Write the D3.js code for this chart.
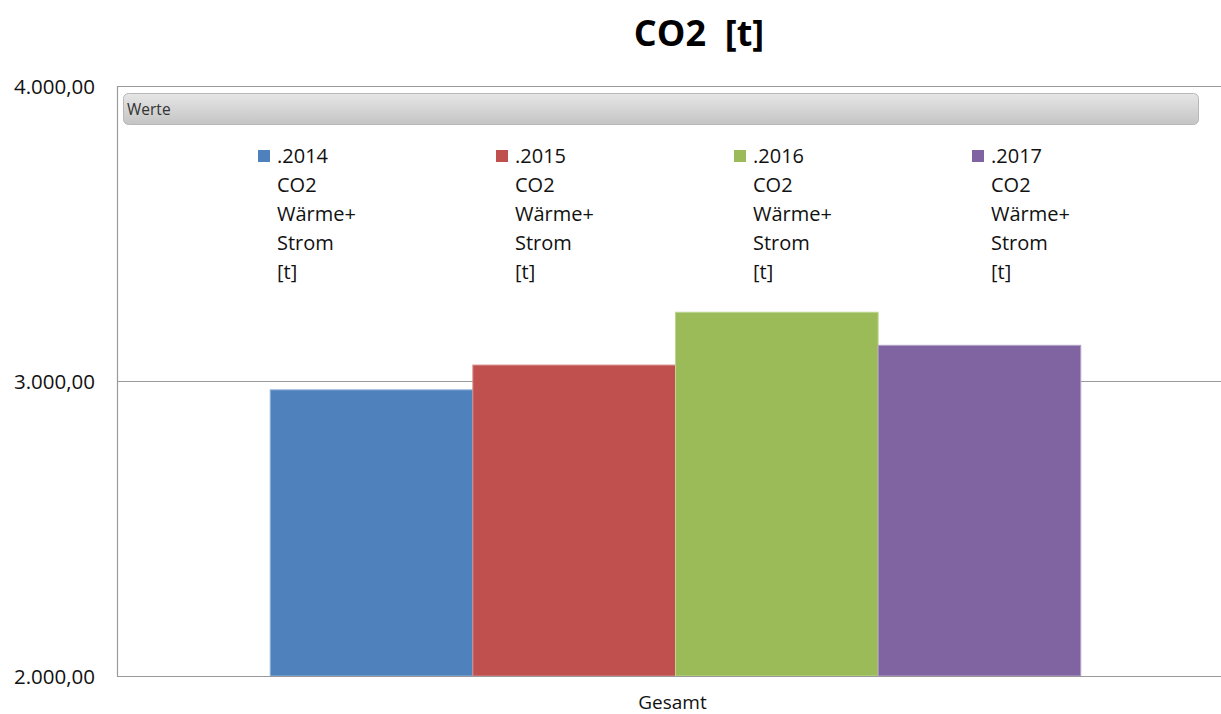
<!DOCTYPE html>
<html>
<head>
<meta charset="utf-8">
<script src="https://cdn.jsdelivr.net/npm/d3@7"></script>
<style>
  body { margin: 0; background: #fff; }
  svg { display: block; font-family: "Open Sans", sans-serif; }
  text { white-space: pre; }
</style>
</head>
<body>
<svg id="chart" width="1221" height="714"></svg>
<script>
// data
const categories = ["Gesamt"];
const years = [".2014", ".2015", ".2016", ".2017"];
const values = [2970, 3054, 3233, 3121];
const legendLines = ["CO2", "Wärme+", "Strom", "[t]"];
const yTicks = [2000, 3000, 4000];
const colors = ["#4F81BD", "#C0504D", "#9BBB59", "#8064A2"];
const strokes = ["#8fb0d8", "#d68c8a", "#bcd68f", "#b3a2c8"];

const width = 1221, height = 714;
const plot = { left: 117, right: 1234, top: 86, bottom: 676 };

const svg = d3.select("#chart");

const deLocale = d3.formatLocale({ decimal: ",", thousands: ".", grouping: [3], currency: ["", " €"] });
const fmt = deLocale.format(",.2f");

const y = d3.scaleLinear().domain([2000, 4000]).range([plot.bottom, plot.top]);
const x = d3.scaleBand().domain(categories).range([plot.left, plot.right]).padding(0.159);
const xInner = d3.scaleBand().domain(years).range([0, x.bandwidth()]);

// title
svg.append("text")
    .attr("x", 699).attr("y", 46)
    .attr("text-anchor", "middle")
    .attr("font-size", "36px")
    .attr("font-weight", "bold")
    .attr("fill", "#000")
    .text("CO2  [t]");

// gridlines (3000, 4000)
svg.append("g")
    .selectAll("line")
    .data(yTicks.filter(d => d > 2000))
    .join("line")
    .attr("x1", plot.left).attr("x2", width)
    .attr("y1", d => y(d) + 0.5).attr("y2", d => y(d) + 0.5)
    .attr("stroke", "#9a9a9a")
    .attr("stroke-width", 1.2);

// y labels
svg.append("g")
    .selectAll("text")
    .data(yTicks)
    .join("text")
    .attr("x", 95)
    .attr("y", d => y(d) + 1)
    .attr("dy", "0.35em")
    .attr("text-anchor", "end")
    .attr("font-size", "20.5px")
    .attr("fill", "#111")
    .text(d => fmt(d));

// bars
const grp = svg.append("g")
    .selectAll("g")
    .data(categories)
    .join("g")
    .attr("transform", d => `translate(${x(d)},0)`);

grp.selectAll("rect")
    .data(years.map((yr, i) => ({ yr, v: values[i], i })))
    .join("rect")
    .attr("x", d => xInner(d.yr))
    .attr("y", d => y(d.v))
    .attr("width", xInner.bandwidth())
    .attr("height", d => y(2000) - y(d.v))
    .attr("fill", d => colors[d.i])
    .attr("stroke", d => strokes[d.i])
    .attr("stroke-width", 1);

// axes lines
svg.append("line")
    .attr("x1", plot.left + 0.5).attr("x2", plot.left + 0.5)
    .attr("y1", plot.top).attr("y2", plot.bottom + 1)
    .attr("stroke", "#9a9a9a").attr("stroke-width", 1.2);
svg.append("line")
    .attr("x1", plot.left).attr("x2", width)
    .attr("y1", plot.bottom + 0.5).attr("y2", plot.bottom + 0.5)
    .attr("stroke", "#9a9a9a").attr("stroke-width", 1.2);

// category label
svg.append("g")
    .selectAll("text")
    .data(categories)
    .join("text")
    .attr("x", d => x(d) + x.bandwidth() / 2 - 3)
    .attr("y", 709)
    .attr("text-anchor", "middle")
    .attr("font-size", "19px")
    .attr("fill", "#111")
    .text(d => d);

// "Werte" field button
const defs = svg.append("defs");
const grad = defs.append("linearGradient").attr("id", "btn").attr("x1", 0).attr("y1", 0).attr("x2", 0).attr("y2", 1);
grad.append("stop").attr("offset", "0%").attr("stop-color", "#e6e6e6");
grad.append("stop").attr("offset", "100%").attr("stop-color", "#c4c4c4");

svg.append("rect")
    .attr("x", 123.5).attr("y", 93.5)
    .attr("width", 1075).attr("height", 31)
    .attr("rx", 5)
    .attr("fill", "url(#btn)")
    .attr("stroke", "#b8b8b8");
svg.append("text")
    .attr("x", 127).attr("y", 115)
    .attr("font-size", "15.5px")
    .attr("fill", "#333")
    .text("Werte");

// legend
const legend = svg.append("g")
    .selectAll("g")
    .data(years)
    .join("g")
    .attr("transform", (d, i) => `translate(${258 + i * 238},0)`);

legend.append("rect")
    .attr("x", 0).attr("y", 150)
    .attr("width", 12).attr("height", 12)
    .attr("fill", (d, i) => colors[i]);

legend.append("text")
    .attr("x", 19).attr("y", 163)
    .attr("font-size", "20px")
    .attr("fill", "#111")
    .text(d => d);

legend.each(function () {
    d3.select(this).selectAll("text.line")
        .data(legendLines)
        .join("text")
        .attr("class", "line")
        .attr("x", 19)
        .attr("y", (d, j) => 192 + j * 29)
        .attr("font-size", "20px")
        .attr("fill", "#111")
        .text(d => d);
});
</script>
</body>
</html>
